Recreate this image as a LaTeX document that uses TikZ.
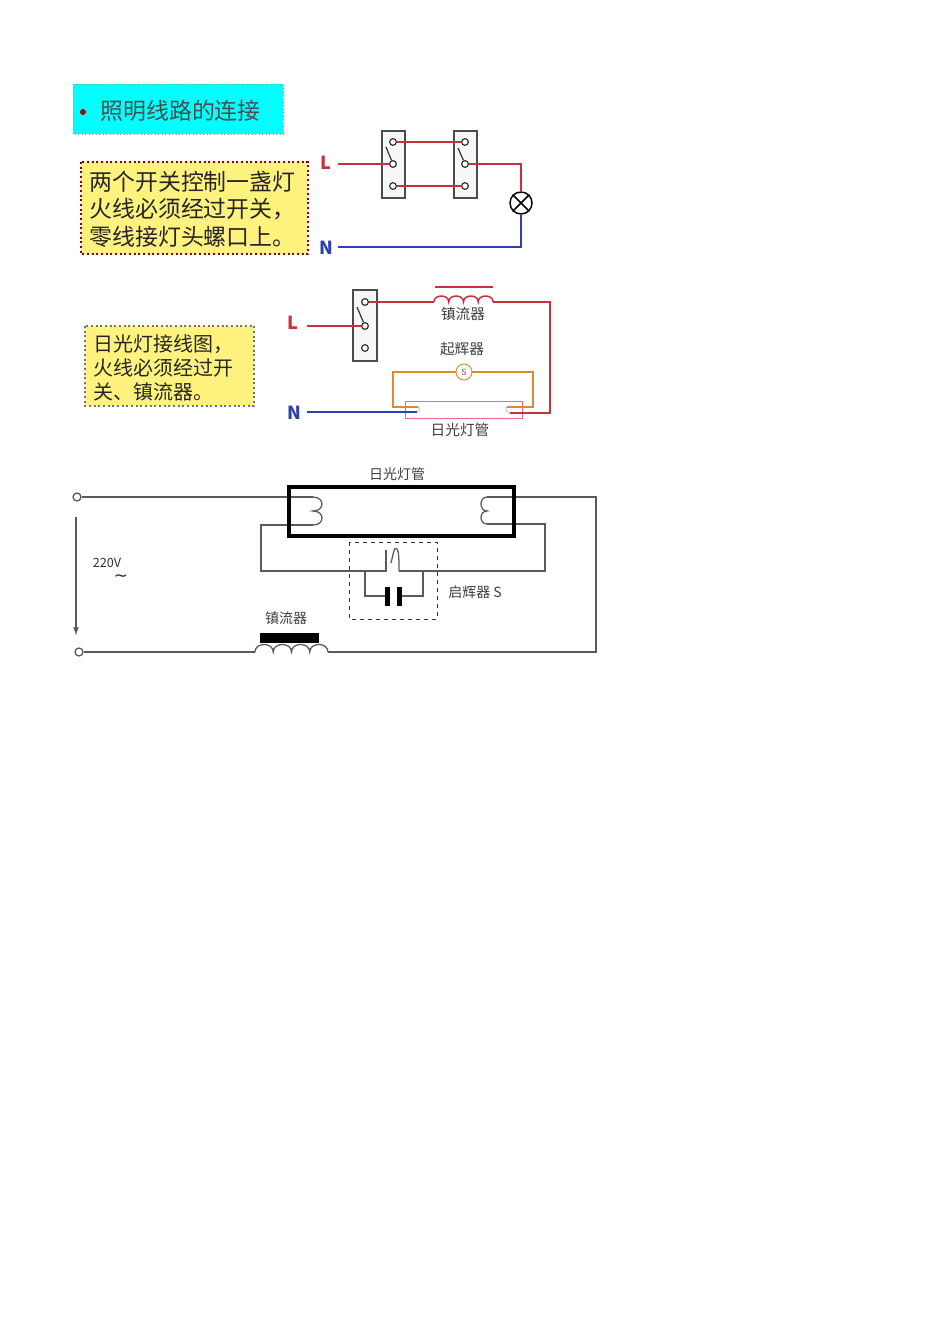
\documentclass[tikz,border=0pt]{standalone}
\usepackage{fontspec}
\setmainfont{Noto Sans CJK SC}
\newfontfamily\symfont{DejaVu Sans}
\usetikzlibrary{calc}
\definecolor{livered}{HTML}{C8303C}
\definecolor{neutblue}{HTML}{3040B0}
\definecolor{startorange}{HTML}{E08A30}
\definecolor{notefill}{HTML}{FFF27F}
\definecolor{wiregray}{HTML}{5A5A5A}
\definecolor{headcyan}{HTML}{00FFFF}
\tikzset{
  wire/.style={line width=1.4pt},
  live/.style={wire,draw=livered},
  neut/.style={wire,draw=neutblue},
  start/.style={wire,draw=startorange},
  gwire/.style={draw=wiregray,line width=0.95pt},
  term/.style={circle,draw=black!80,fill=white,line width=0.9pt,inner sep=0pt,minimum size=5pt},
  swbox/.style={draw=black!70,fill=black!3,line width=1pt},
  note/.style={fill=notefill,draw=red!55!black,line width=1.5pt,dotted},
  lbl/.style={inner sep=0pt,font=\fontsize{11}{11}\selectfont,text=black!75},
  lead/.style={inner sep=0pt,font=\fontsize{13.5}{13.5}\selectfont\bfseries}
}
\begin{document}
\begin{tikzpicture}[x=0.75pt,y=-0.75pt]
    \useasboundingbox (0,0) rectangle (950,1344);
    \fill[white] (0,0) rectangle (950,1344);
    % heading and notes
    \fill[headcyan] (73,84) rectangle (283,134);
    \draw[green!50!black!60,dotted,line width=0.6pt] (73,84) rectangle (283,134);
    \node[circle,fill=red!70!black,inner sep=0pt,minimum size=4.5pt] (bullet) at (83,112) {};
    \node[anchor=west,inner sep=0pt,font=\fontsize{17.2}{17.2}\selectfont,text=black!70] (headtext) at (100,111) {照明线路的连接};
    \draw[note] (81,162) rectangle (308,254);
    \node[anchor=west,inner sep=0pt,align=left,font=\fontsize{17.2}{20.6}\selectfont,text=black!85] (noteone) at (89,209)
      {两个开关控制一盏灯\\火线必须经过开关，\\零线接灯头螺口上。};
    \draw[note,draw=black!55,line width=1pt] (85,326) rectangle (254,406);
    \node[anchor=west,inner sep=0pt,align=left,font=\fontsize{15}{18}\selectfont,text=black!85] (notetwo) at (93,368)
      {日光灯接线图，\\火线必须经过开\\关、镇流器。};
    % two switches, one lamp
    \draw[swbox] (382,131) rectangle (405,198);
    \draw[swbox] (454,131) rectangle (477,198);
    \node[term] (sa1) at (393,142) {};
    \node[term] (sa2) at (393,164) {};
    \node[term] (sa3) at (393,186) {};
    \node[term] (sb1) at (465,142) {};
    \node[term] (sb2) at (465,164) {};
    \node[term] (sb3) at (465,186) {};
    \coordinate (bladeA) at (386,147);
    \coordinate (bladeB) at (458,148);
    \draw[black!80,line width=0.9pt] (sa2) -- (bladeA);
    \draw[black!80,line width=0.9pt] (sb2) -- (bladeB);
    \node[lead,text=livered] (Lone) at (326,163) {L};
    \node[lead,text=neutblue] (None) at (326,248) {N};
    \coordinate (Lonew) at (338,164);
    \coordinate (Nonew) at (338,247);
    \coordinate (cornerA) at (521,164);
    \coordinate (cornerB) at (521,247);
    \node[circle,draw=black,fill=white,line width=1.1pt,inner sep=0pt,minimum size=16.5pt] (lamp) at (521,203) {};
    \draw[black,line width=1.1pt] (lamp.45) -- (lamp.225) (lamp.135) -- (lamp.315);
    \draw[live] (Lonew) -- (sa2);
    \draw[live] (sa1) -- (sb1);
    \draw[live] (sa3) -- (sb3);
    \draw[live] (sb2) -- (cornerA) -- (lamp);
    \draw[neut] (Nonew) -- (cornerB) -- (lamp);
    % fluorescent lamp, coloured
    \draw[swbox] (353,290) rectangle (377,361);
    \node[term] (sc1) at (365,302) {};
    \node[term] (sc2) at (365,326) {};
    \node[term] (sc3) at (365,348) {};
    \coordinate (bladeC) at (357,307);
    \draw[black!80,line width=0.9pt] (sc2) -- (bladeC);
    \node[lead,text=livered] (Ltwo) at (293,323) {L};
    \node[lead,text=neutblue] (Ntwo) at (294,413) {N};
    \coordinate (Ltwow) at (307,326);
    \coordinate (Ntwow) at (307,412);
    \coordinate (coilL) at (434,302);
    \coordinate (coilR) at (493,302);
    \coordinate (cornerC) at (550,302);
    \coordinate (cornerD) at (550,413);
    \draw[livered,line width=1.8pt] (435,287) -- (493,287);
    \draw[live] (Ltwow) -- (sc2);
    \draw[live] (sc1) -- (coilL);
    \draw[live,line width=1.1pt] (coilL) foreach \i in {1,2,3,4} { .. controls +(0,-8) and +(0,-8) .. ++(14.75,0)};
    \node[lbl] (ballast) at (463,314) {镇流器};
    \node[lbl] (starter) at (462,349) {起辉器};
    \node[lbl] (tubetext) at (460,430) {日光灯管};
    \draw[draw=magenta!50!pink,line width=0.7pt] (405,401) rectangle (522,418);
    \coordinate (pinA) at (418,407);
    \coordinate (pinB) at (417,412);
    \coordinate (pinC) at (507,407);
    \coordinate (pinD) at (510,413);
    \coordinate (startA) at (393,372);
    \coordinate (startB) at (393,407);
    \coordinate (startC) at (533,372);
    \coordinate (startD) at (533,407);
    \node[circle,draw=startorange,fill=white,line width=0.7pt,inner sep=0pt,minimum size=12pt,font=\fontsize{6.5}{6.5}\selectfont,text=magenta!50!black] (glow) at (464,372) {S};
    \draw[start] (pinA) -- (startB) -- (startA) -- (glow);
    \draw[start] (pinC) -- (startD) -- (startC) -- (glow);
    \draw[live] (coilR) -- (cornerC) -- (cornerD) -- (pinD);
    \draw[neut] (Ntwow) -- (pinB);
    \draw[black!30,line width=0.5pt] (pinA) .. controls +(3,0) and +(3,0) .. (pinB);
    \draw[black!30,line width=0.5pt] (pinC) .. controls +(-3,0) and +(-3,0) .. (pinD);
    % fluorescent lamp, schematic
    \node[circle,draw=wiregray,fill=white,line width=0.95pt,inner sep=0pt,minimum size=6pt] (top) at (77,497) {};
    \node[circle,draw=wiregray,fill=white,line width=0.95pt,inner sep=0pt,minimum size=6pt] (bot) at (79,652) {};
    \coordinate (fLa) at (313,497);
    \coordinate (fLm) at (313,511);
    \coordinate (fLb) at (313,525);
    \coordinate (fRa) at (487,497);
    \coordinate (fRm) at (487,511);
    \coordinate (fRb) at (487,524);
    \coordinate (outA) at (596,497);
    \coordinate (outB) at (596,652);
    \coordinate (leftA) at (261,525);
    \coordinate (leftB) at (261,571);
    \coordinate (rightA) at (545,524);
    \coordinate (rightB) at (545,571);
    \coordinate (contA) at (386,571);
    \coordinate (contB) at (386,550);
    \coordinate (bimA) at (399,571);
    \coordinate (bimB) at (391,563);
    \coordinate (capL) at (365,571);
    \coordinate (capR) at (423,571);
    \coordinate (capLb) at (365,596);
    \coordinate (capRb) at (423,596);
    \coordinate (plateL) at (387,596);
    \coordinate (plateR) at (399,596);
    \coordinate (ballL) at (255,652);
    \coordinate (ballR) at (328,652);
    \draw[gwire] (top) -- (fLa);
    \draw[gwire] (fLa) .. controls +(12,0) and +(12,0) .. (fLm) .. controls +(12,0) and +(12,0) .. (fLb);
    \draw[gwire] (fLb) -- (leftA) -- (leftB) -- (contA) -- (contB);
    \draw[gwire] (bimB) .. controls +(2,-7) and +(-3,-4) .. (397,549) .. controls +(2,2) and +(0,-10) .. (bimA);
    \draw[gwire] (bimA) -- (rightB) -- (rightA) -- (fRb);
    \draw[gwire] (fRb) .. controls +(-8,0) and +(-8,0) .. (fRm) .. controls +(-8,0) and +(-8,0) .. (fRa);
    \draw[gwire] (fRa) -- (outA) -- (outB) -- (ballR);
    \draw[gwire] (bot) -- (ballL);
    \draw[gwire] (ballL) foreach \i in {1,2,3,4} { .. controls +(0,-10) and +(0,-10) .. ++(18.25,0)};
    \draw[gwire] (capL) -- (capLb) -- (plateL);
    \draw[gwire] (capR) -- (capRb) -- (plateR);
    \fill[black] (385,587) rectangle (390,606);
    \fill[black] (397,587) rectangle (402,606);
    \fill[black] (260,633) rectangle (319,643);
    \draw[black,line width=2.6pt] (289,487) rectangle (514,536);
    \draw[black!80,dashed,line width=0.7pt] (349,542) rectangle (437,619);
    \coordinate (arrowA) at (76,517);
    \coordinate (arrowB) at (76,635);
    \draw[gwire,-latex] (arrowA) -- (arrowB);
    \node[inner sep=0pt,font=\fontsize{9.5}{9.5}\selectfont,text=black!80] (volt) at (107,563) {220V};
    \node[inner sep=0pt,font=\symfont\fontsize{13}{13}\selectfont,text=black!80] (tilde) at (121,578) {∼};
    \node[lbl,font=\fontsize{10.5}{10.5}\selectfont] (tubelabel) at (397,474) {日光灯管};
    \node[lbl,font=\fontsize{10.5}{10.5}\selectfont] (ballastlabel) at (286,618) {镇流器};
    \node[lbl,font=\fontsize{10.5}{10.5}\selectfont] (startlabel) at (475,592) {启辉器 S};
  \end{tikzpicture}
\end{document}
